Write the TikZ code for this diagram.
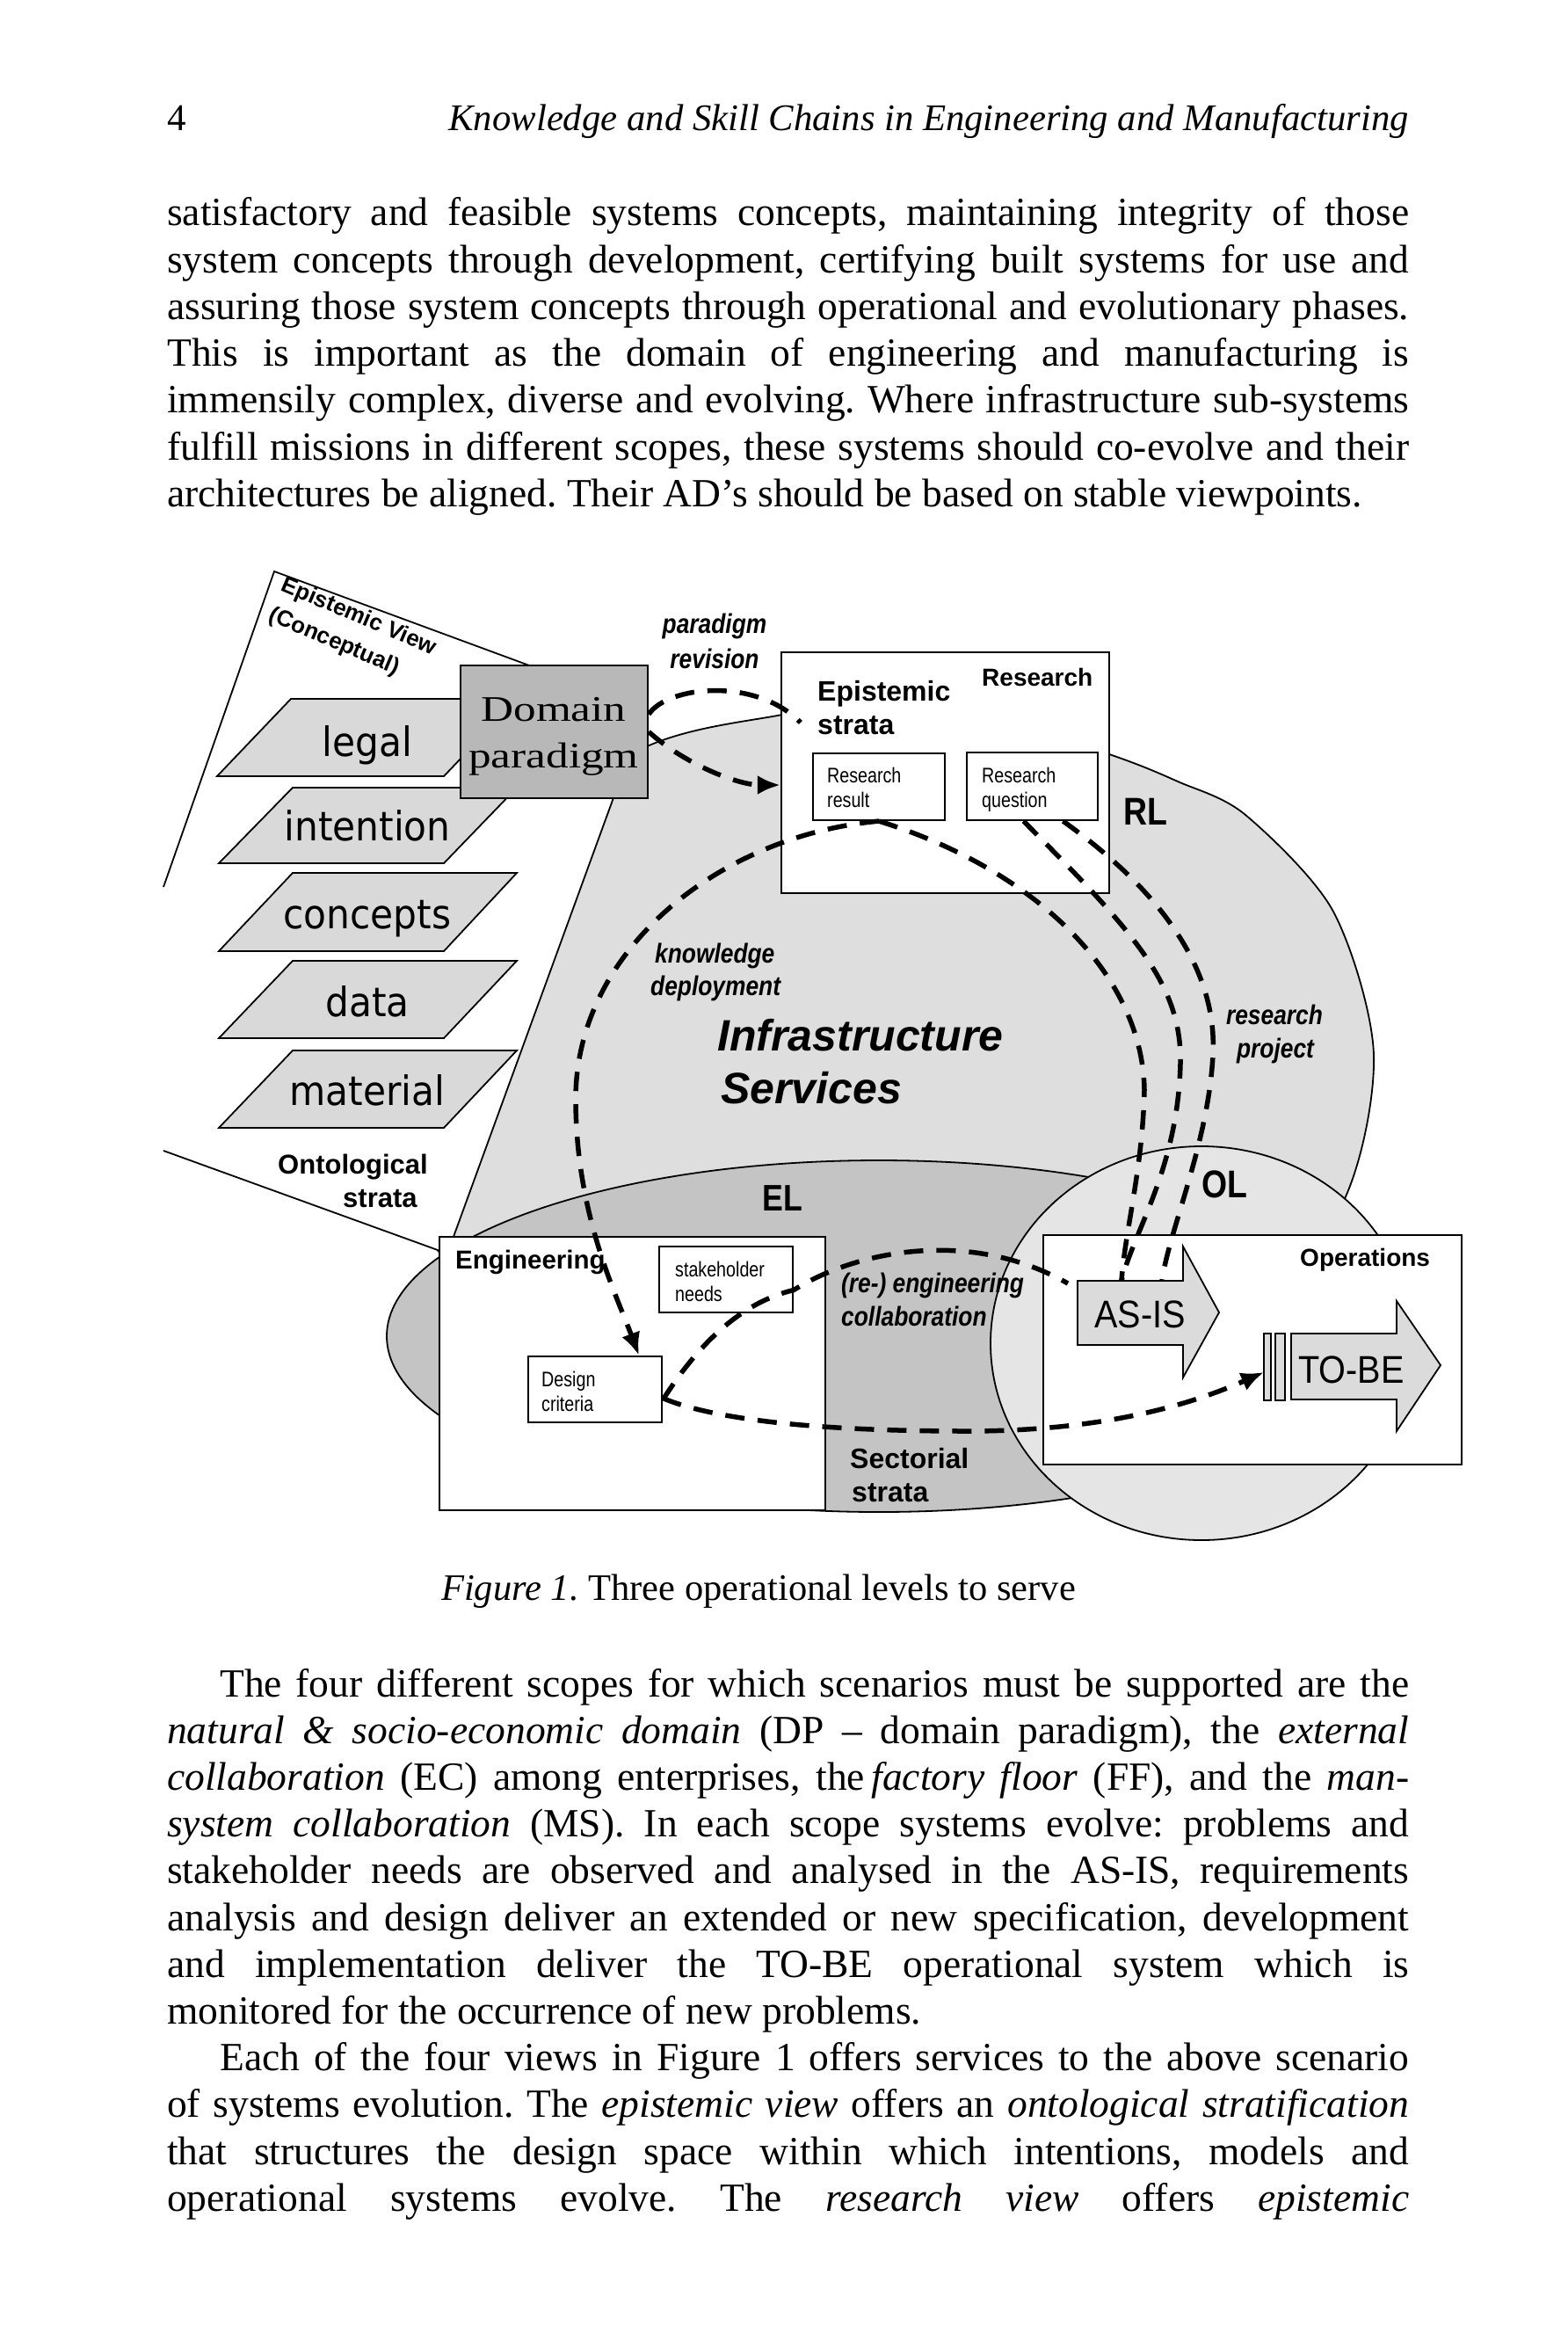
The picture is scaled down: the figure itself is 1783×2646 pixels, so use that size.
\documentclass[tikz,border=0pt]{standalone}
\usepackage{fontspec}
\setmainfont{Liberation Serif}
\newfontfamily\arial{Liberation Sans}
\newfontfamily\nsans[FakeStretch=0.82]{Liberation Sans}
\newfontfamily\nsansb[FakeStretch=0.85]{Liberation Sans}
\newfontfamily\msans[FakeStretch=0.9]{Liberation Sans}
\newfontfamily\tahomalike[FakeStretch=0.92]{DejaVu Sans}
\newfontfamily\wideserif[FakeStretch=1.25]{Liberation Serif}
\usetikzlibrary{arrows.meta}
\definecolor{blobgray}{gray}{0.87}
\definecolor{elgray}{gray}{0.77}
\definecolor{olgray}{gray}{0.90}
\definecolor{paragray}{gray}{0.85}
\definecolor{dpgray}{gray}{0.72}
\definecolor{arrowgray}{gray}{0.86}
\newcommand{\jl}[2][1413pt]{\hbox to #1{#2}}
\frenchspacing
\begin{document}
\begin{tikzpicture}[x=1pt,y=-1pt,
  thinline/.style={line width=1.8pt},
  boxst/.style={draw, line width=2.2pt, fill=white, inner sep=0pt},
  dconn/.style={line width=5.5pt, dash pattern=on 22pt off 15pt},
  tipd/.style={-{Latex[length=26pt,width=22pt]}},
  bl/.style={anchor=base west, inner sep=0pt, text height=31pt, text depth=9pt, font=\fontsize{45.5}{53}\selectfont},
  lb/.style={anchor=base west, inner sep=0pt},
  lbc/.style={anchor=base, inner sep=0pt},
  paraword/.style={anchor=base, inner sep=0pt, font=\tahomalike\fontsize{46}{50}\selectfont},
  small/.style={anchor=base west, inner sep=0pt, font=\nsans\fontsize{24}{28}\selectfont},
  ital/.style={inner sep=0pt, font=\nsansb\bfseries\itshape\fontsize{31}{36}\selectfont},
  boldl/.style={anchor=base west, inner sep=0pt, font=\arial\bfseries\fontsize{32}{36}\selectfont},
  level/.style={anchor=base west, inner sep=0pt, font=\nsansb\bfseries\fontsize{44}{48}\selectfont},
  ostrata/.style={draw, line width=1.8pt, fill=paragray}
]
\useasboundingbox (0,0) rectangle (1783,2646);

% ---------------- page header and text ----------------
\node[anchor=base west, inner sep=0pt, font=\fontsize{43}{50}\selectfont] (pnum) at (190,149) {4};
\node[anchor=base east, inner sep=0pt, font=\fontsize{42.7}{50}\selectfont\itshape] (head) at (1603,149) {Knowledge and Skill Chains in Engineering and Manufacturing};

\node[bl] (p1a) at (190,257) {\jl{satisfactory and feasible systems concepts, maintaining integrity of those}};
\node[bl] (p1b) at (190,310.2) {\jl{system concepts through development, certifying built systems for use and}};
\node[bl] (p1c) at (190,363.4) {\jl{assuring those system concepts through operational and evolutionary phases.}};
\node[bl] (p1d) at (190,416.6) {\jl{This is important as the domain of engineering and manufacturing is}};
\node[bl] (p1e) at (190,469.8) {\jl{immensily complex, diverse and evolving. Where infrastructure sub-systems}};
\node[bl] (p1f) at (190,523) {\jl{fulfill missions in different scopes, these systems should co-evolve and their}};
\node[bl] (p1g) at (190,576.2) {architectures be aligned. Their AD’s should be based on stable viewpoints.};

\node[anchor=base west, inner sep=0pt, font=\fontsize{42.5}{48}\selectfont] (cap) at (502,1820) {\textit{Figure 1.} Three operational levels to serve};

\node[bl] (p2a) at (250,1930) {\jl[1353pt]{The four different scopes for which scenarios must be supported are the}};
\node[bl] (p2b) at (190,1983.2) {\jl{\textit{natural \& socio-economic domain} (DP -- domain paradigm), the \textit{external}}};
\node[bl] (p2c) at (190,2036.4) {\jl{\textit{collaboration} (EC) among enterprises, the\,\textit{factory floor} (FF), and the \textit{man-}}};
\node[bl] (p2d) at (190,2089.6) {\jl{\textit{system collaboration} (MS). In each scope systems evolve: problems and}};
\node[bl] (p2e) at (190,2142.8) {\jl{stakeholder needs are observed and analysed in the AS-IS, requirements}};
\node[bl] (p2f) at (190,2196) {\jl{analysis and design deliver an extended or new specification, development}};
\node[bl] (p2g) at (190,2249.2) {\jl{and implementation deliver the TO-BE operational system which is}};
\node[bl] (p2h) at (190,2302.4) {monitored for the occurrence of new problems.};
\node[bl] (p3a) at (250,2355.6) {\jl[1353pt]{Each of the four views in Figure 1 offers services to the above scenario}};
\node[bl] (p3b) at (190,2408.8) {\jl{of systems evolution. The \textit{epistemic view} offers an \textit{ontological stratification}}};
\node[bl] (p3c) at (190,2462) {\jl{that structures the design space within which intentions, models and}};
\node[bl] (p3d) at (190,2515.2) {\jl{operational systems evolve. The \textit{research view} offers \textit{epistemic}}};

% ---------------- background regions ----------------
\filldraw[fill=blobgray, thinline] plot[smooth cycle] coordinates {(520,1100) (700,870) (890,813) (1075,798) (1262,858) (1340,889) (1417,927) (1517,1037) (1563,1200) (1527,1370) (1400,1530) (1000,1560) (505,1430)};
\fill[white] (186,1009) -- (312,650) -- (735,806) -- (509,1426) -- (186,1309) -- cycle;
\draw[thinline] (186,1009) -- (312,650) -- (735,806) -- (509,1426) -- (186,1309);
\filldraw[fill=elgray, thinline] (1000,1520) ellipse [x radius=560pt, y radius=200pt];
\filldraw[fill=olgray, thinline] (1367,1528) ellipse [x radius=240pt, y radius=224pt];

% ---------------- ontological strata ----------------
\filldraw[ostrata] (247,883) -- (331,795) -- (589,795) -- (505,883) -- cycle;
\filldraw[ostrata] (249,982) -- (333,896) -- (588,896) -- (505,982) -- cycle;
\filldraw[ostrata] (249,1082) -- (333,993) -- (588,993) -- (505,1082) -- cycle;
\filldraw[ostrata] (249,1181) -- (333,1093) -- (588,1093) -- (505,1181) -- cycle;
\filldraw[ostrata] (249,1283) -- (333,1195) -- (588,1195) -- (505,1283) -- cycle;
\node[paraword] (tlegal) at (418,860) {legal};
\node[paraword] (tint) at (418,956) {intention};
\node[paraword] (tcon) at (418,1056) {concepts};
\node[paraword] (tdata) at (418,1156) {data};
\node[paraword] (tmat) at (418,1257) {material};

% ---------------- boxes ----------------
\node[boxst, fill=dpgray, minimum width=213pt, minimum height=151pt] (dp) at (630.5,832.5) {};
\node[lbc, font=\wideserif\fontsize{41}{53}\selectfont] (tdom) at (630,820) {Domain};
\node[lbc, font=\wideserif\fontsize{41}{53}\selectfont] (tpar) at (630,873) {paradigm};

\node[boxst, minimum width=373pt, minimum height=274pt] (rbox) at (1075.5,879) {};
\node[boxst, minimum width=150pt, minimum height=76pt] (rres) at (1000,895) {};
\node[boxst, minimum width=149pt, minimum height=77pt] (rq) at (1174.5,894.5) {};

\node[boxst, minimum width=439pt, minimum height=311pt] (eng) at (719.5,1562.5) {};
\node[boxst, minimum width=152pt, minimum height=75pt] (stake) at (826,1455.5) {};
\node[boxst, minimum width=152pt, minimum height=75pt] (design) at (677,1580.5) {};

\node[boxst, minimum width=476pt, minimum height=261pt] (ops) at (1425,1535.5) {};
\filldraw[fill=arrowgray, thinline] (1226,1457) -- (1346,1457) -- (1346,1418) -- (1387,1493) -- (1346,1567) -- (1346,1530) -- (1226,1530) -- cycle;
\filldraw[fill=arrowgray, thinline] (1469,1517) -- (1589,1517) -- (1589,1480) -- (1639,1553) -- (1589,1628) -- (1589,1592) -- (1469,1592) -- cycle;
\filldraw[fill=arrowgray, thinline] (1438,1517) rectangle (1446,1593);
\filldraw[fill=arrowgray, thinline] (1451,1517) rectangle (1462,1593);
\coordinate (asisA) at (1276,1457);
\coordinate (asisB) at (1322,1457);
\coordinate (asisL) at (1215,1460);
\coordinate (tobeL) at (1438,1561);

% ---------------- dashed connectors ----------------
\draw[dconn] ([yshift=20pt]dp.east) .. controls (760,780) and (860,770) .. ([xshift=23pt,yshift=57pt]rbox.west);
\draw[dconn, tipd] (dp.east) .. controls (780,870) and (840,893) .. ([yshift=-14pt]rbox.west);
\draw[dconn, tipd] (rres.south) .. controls (820,950) and (655,1080) .. (655,1250) .. controls (655,1380) and (700,1470) .. ([xshift=50pt]design.north);
\draw[dconn] (rres.south) .. controls (1180,990) and (1300,1110) .. (1302,1240) .. controls (1300,1330) and (1280,1400) .. (asisA);
\draw[dconn] ([xshift=-10pt]rq.south) .. controls (1290,1060) and (1345,1120) .. (1343,1210) .. controls (1340,1330) and (1290,1400) .. (asisA);
\draw[dconn] ([xshift=35pt]rq.south) .. controls (1330,1020) and (1385,1110) .. (1380,1200) .. controls (1375,1300) and (1330,1400) .. (asisB);
\draw[dconn] ([yshift=-12pt]design.east) .. controls (800,1520) and (850,1480) .. ([yshift=-12pt]stake.east) .. controls (970,1425) and (1100,1395) .. (asisL);
\draw[dconn, tipd] ([yshift=-10pt]design.east) .. controls (800,1610) and (900,1628) .. (1100,1628) .. controls (1250,1628) and (1350,1600) .. (tobeL);

% ---------------- labels ----------------
\node[rotate=-23, align=left, inner sep=0pt, font=\arial\bfseries\fontsize{26}{37}\selectfont] (epv) at (401,719) {Epistemic View\\(Conceptual)};
\node[boldl, font=\arial\bfseries\fontsize{31}{36}\selectfont] (onto1) at (316,1335) {Ontological};
\node[boldl, font=\arial\bfseries\fontsize{31}{36}\selectfont] (onto2) at (390,1373) {strata};

\node[ital, anchor=base] (pr1) at (813,720) {paradigm};
\node[ital, anchor=base] (pr2) at (813,760) {revision};

\node[boldl] (es1) at (930,797) {Epistemic};
\node[boldl] (es2) at (930,835) {strata};
\node[boldl, font=\arial\bfseries\fontsize{28}{32}\selectfont] (resl) at (1117,780) {Research};
\node[small] (rr1) at (941,890) {Research};
\node[small] (rr2) at (941,918) {result};
\node[small] (rq1) at (1117,890) {Research};
\node[small] (rq2) at (1117,918) {question};
\node[level] (rl) at (1278,938) {RL};

\node[ital, anchor=base west] (kd1) at (745,1095) {knowledge};
\node[ital, anchor=base west] (kd2) at (740,1132) {deployment};
\node[lb, font=\arial\bfseries\itshape\fontsize{50}{58}\selectfont] (is1) at (816,1195) {Infrastructure};
\node[lb, font=\arial\bfseries\itshape\fontsize{50}{58}\selectfont] (is2) at (820,1255) {Services};
\node[ital, anchor=base] (rp1) at (1450,1165) {research};
\node[ital, anchor=base] (rp2) at (1451,1203) {project};

\node[level, font=\nsansb\bfseries\fontsize{42}{48}\selectfont] (el) at (867,1377) {EL};
\node[level] (ol) at (1367,1362) {OL};

\node[boldl, font=\arial\bfseries\fontsize{29.5}{34}\selectfont] (engl) at (518,1443) {Engineering};
\node[small] (sh1) at (768,1452) {stakeholder};
\node[small] (sh2) at (768,1480) {needs};
\node[small] (dc1) at (616,1577) {Design};
\node[small] (dc2) at (616,1605) {criteria};
\node[ital, anchor=base west] (re1) at (957,1470) {(re-) engineering};
\node[ital, anchor=base west] (re2) at (957,1508) {collaboration};
\node[boldl] (sec1) at (967,1670) {Sectorial};
\node[boldl] (sec2) at (969,1708) {strata};

\node[boldl, font=\arial\bfseries\fontsize{28}{32}\selectfont] (opl) at (1479,1440) {Operations};
\node[lb, font=\msans\fontsize{44}{48}\selectfont] (asis) at (1245,1510) {AS-IS};
\node[lb, font=\msans\fontsize{44}{48}\selectfont] (tobe) at (1477,1573) {TO-BE};
\end{tikzpicture}
\end{document}
